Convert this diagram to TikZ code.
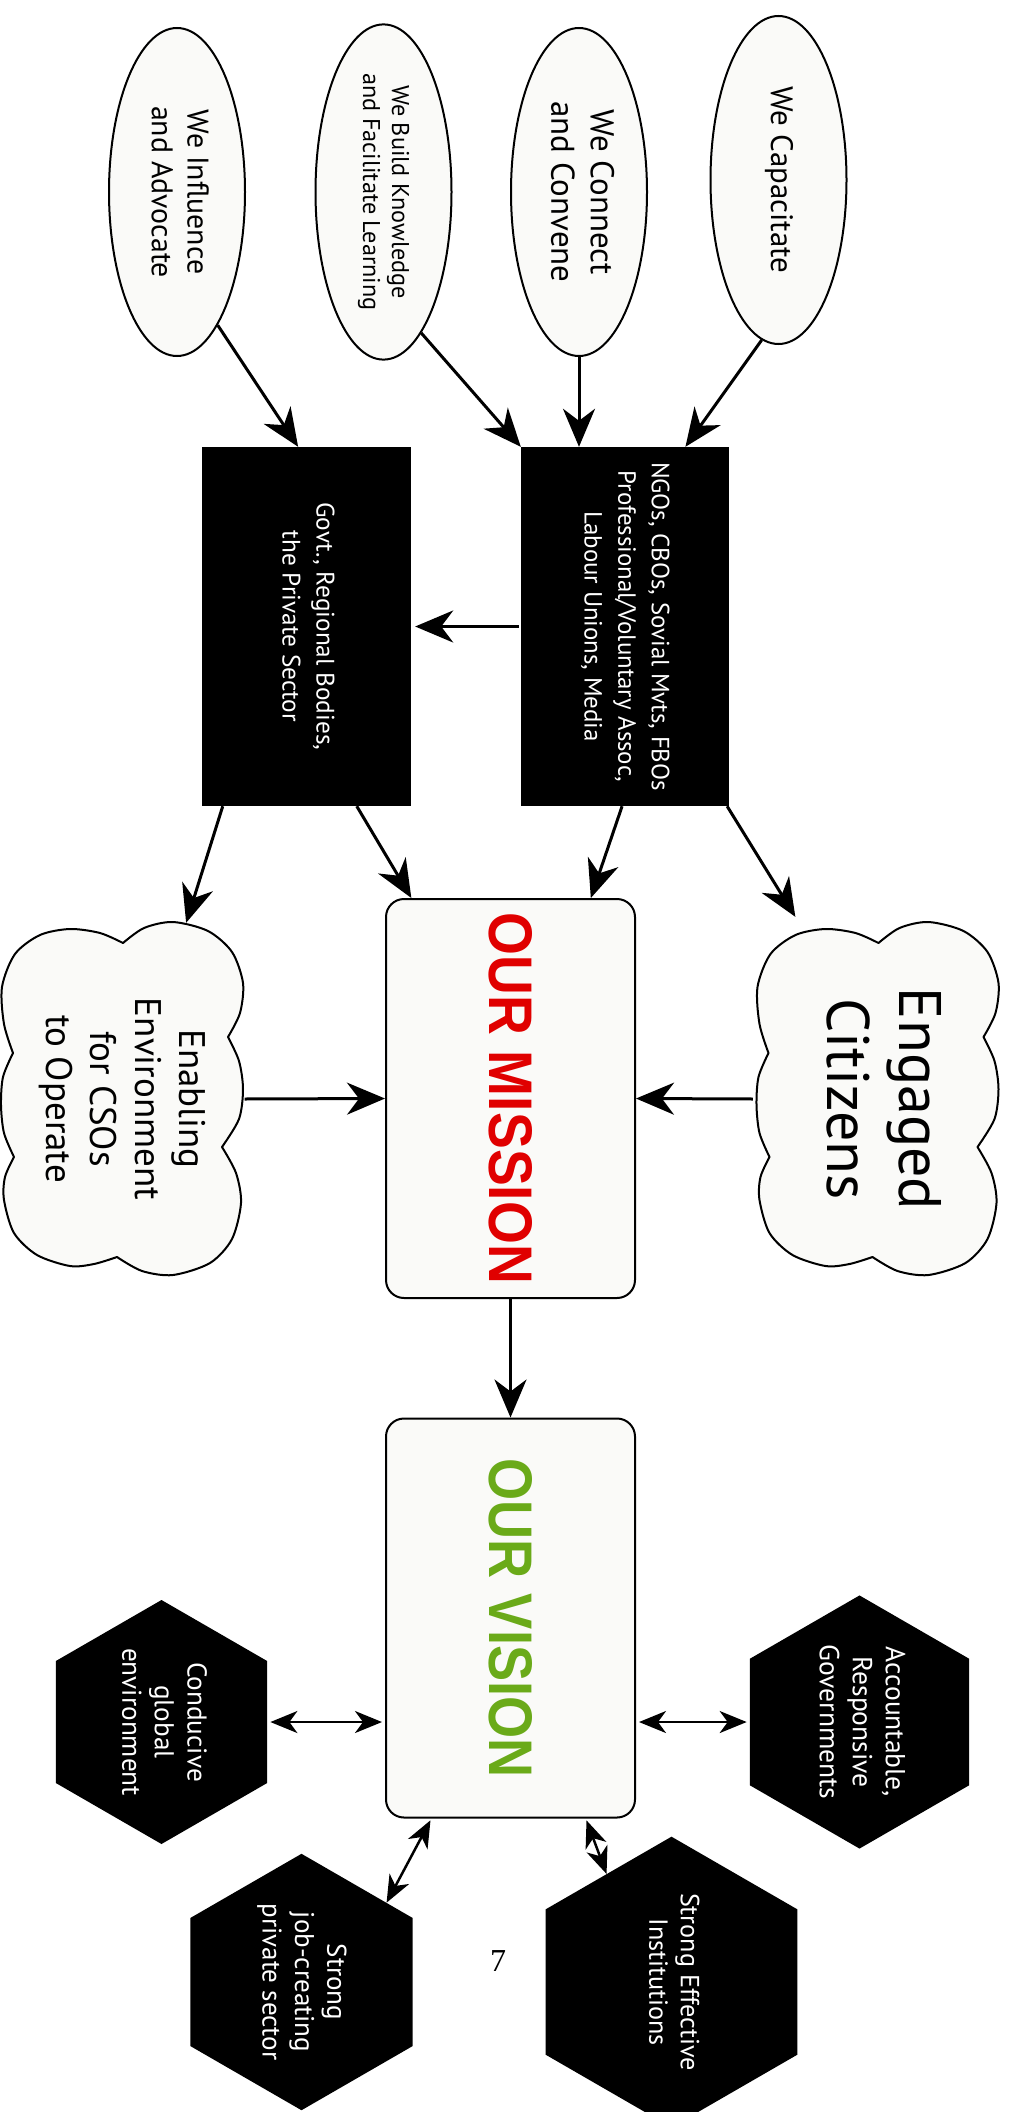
\documentclass[tikz,border=0pt]{standalone}
\usepackage{fontspec}
\setmainfont{PT Sans}
\newfontfamily\boldhead{Liberation Sans}
\newfontfamily\pagefont{Liberation Serif}
\usetikzlibrary{shapes.geometric,arrows.meta,calc}
\definecolor{shapefill}{RGB}{250,250,248}
\definecolor{missionred}{RGB}{224,0,0}
\definecolor{visiongreen}{RGB}{106,170,25}
\newcommand{\vtxt}[3]{\rotatebox{-90}{\resizebox{#1}{!}{\fontsize{10}{#2}\selectfont\begin{tabular}{@{}c@{}}#3\end{tabular}}}}
\newcommand{\bigword}[3]{\rotatebox{-90}{\resizebox{#1}{43pt}{\boldhead\bfseries\color{#2}#3}}}
\newcommand{\cloudoutline}[2]{%
  \filldraw[cloudline, shift={(#1,#2)}]
    plot[smooth] coordinates {(1,-156) (22,-171) (51,-177) (86,-168) (110,-147) (121,-116) (118,-86) (106,-62)}
    -- plot[smooth] coordinates {(106,-62) (117,-38) (121,-10) (117,20) (100,48)}
    -- plot[smooth] coordinates {(100,48) (114,74) (119,104) (110,140) (88,164) (51,176) (20,172) (-5,158)}
    -- plot[smooth] coordinates {(-5,158) (-28,165) (-52,167) (-85,156) (-108,134) (-118,101) (-117,78) (-108,58)}
    -- plot[smooth] coordinates {(-108,58) (-118,34) (-121,6) (-119,-22) (-109,-46)}
    -- plot[smooth] coordinates {(-109,-46) (-118,-75) (-120,-112) (-107,-145) (-82,-164) (-52,-170) (-22,-166) (1,-156)}
    -- cycle;}
\tikzset{
  idea/.style={ellipse, draw, line width=2pt, fill=shapefill, minimum width=136pt, minimum height=328pt, inner sep=0pt},
  actor/.style={rectangle, fill=black, text=white, minimum width=209pt, minimum height=359pt, inner sep=0pt},
  cloudline/.style={draw=black, line width=2pt, fill=shapefill, line join=round},
  cloudbox/.style={rectangle, minimum width=241pt, minimum height=352pt, inner sep=0pt},
  core/.style={rectangle, rounded corners=18pt, draw, line width=2pt, fill=shapefill, minimum width=249pt, minimum height=399pt, inner sep=0pt},
  goal/.style={regular polygon, regular polygon sides=6, shape border rotate=30, fill=black, text=white, minimum size=244pt, inner sep=0pt},
  flow/.style={line width=3pt, -{Stealth[length=38pt,width=32pt,inset=12pt]}},
  link/.style={line width=2.5pt, {Stealth[length=27pt,width=22pt,inset=8pt]}-{Stealth[length=27pt,width=22pt,inset=8pt]}},
  pagenum/.style={inner sep=0pt, font=\pagefont\fontsize{32}{38}\selectfont}
}
\begin{document}
\begin{tikzpicture}[x=1pt,y=-1pt]
\fill[white] (0,0) rectangle (1013,2112);
\useasboundingbox (0,0) rectangle (1013,2112);

% ellipses
\node[idea] (e1) at (177,192) {\vtxt{172pt}{12}{We Influence\\and Advocate}};
\node[idea] (e2) at (383.5,192) {\vtxt{237pt}{12}{We Build Knowledge\\and Facilitate Learning}};
\node[idea] (e3) at (579,192) {\vtxt{181pt}{12}{We Connect\\and Convene}};
\node[idea] (e4) at (778.5,180) {\vtxt{187pt}{12}{We Capacitate}};

% black boxes
\node[actor] (govt) at (306.5,626.5) {\vtxt{248pt}{13.5}{Govt., Regional Bodies,\\the Private Sector}};
\node[actor, minimum width=208pt] (ngo) at (625,626.5) {\vtxt{329pt}{13.5}{NGOs, CBOs, Sovial Mvts, FBOs\\Professional/Voluntary Assoc,\\Labour Unions, Media}};

% clouds
\cloudoutline{122}{1099}
\cloudoutline{877.5}{1099}
\node[cloudbox] (encloud) at (122,1099) {\vtxt{202pt}{12}{Enabling\\Environment\\for CSOs\\to Operate}};
\node[cloudbox, minimum width=245pt] (citizens) at (877.5,1099) {\vtxt{222pt}{12}{Engaged\\Citizens}};

% mission and vision
\node[core] (mission) at (510.5,1098.5) {\bigword{371pt}{missionred}{OUR MISSION}};
\node[core] (vision) at (510.5,1618) {\bigword{319pt}{visiongreen}{OUR VISION}};

% hexagons
\node[goal] (conducive) at (161.5,1722) {\vtxt{148pt}{12}{Conducive\\global\\environment}};
\node[goal] (accountable) at (859.5,1722) {\vtxt{155pt}{12}{Accountable,\\Responsive\\Governments}};
\node[goal] (job) at (301.5,1982) {\vtxt{157pt}{12}{Strong\\job-creating\\private sector}};
\node[goal] (effective) at (671.5,1982) {\vtxt{178pt}{12}{Strong Effective\\Institutions}};

\node[pagenum] (pg) at (498,1961) {7};

% arrows
\draw[flow] (e1.-73.5) -- ($(govt.north west)!0.46!(govt.north east)$);
\draw[flow] (e2.-75.5) -- (ngo.north west);
\draw[flow] (e3.south) -- (e3.south |- ngo.north);
\draw[flow] (e4.264.5) -- ($(ngo.north west)!0.79!(ngo.north east)$);
\draw[flow, shorten >=4pt, shorten <=2pt] (ngo.west) -- (govt.east);
\draw[flow] ($(govt.south west)!0.1!(govt.south east)$) -- (encloud.70);
\draw[flow] ($(govt.south west)!0.74!(govt.south east)$) -- ($(mission.north west)!0.105!(mission.north east)$);
\draw[flow] ($(ngo.south west)!0.486!(ngo.south east)$) -- ($(mission.north west)!0.82!(mission.north east)$);
\draw[flow, shorten >=7pt] ($(ngo.south west)!0.99!(ngo.south east)$) -- (citizens.114);
\draw[flow, shorten <=2pt] (encloud.east) -- (mission.west);
\draw[flow, shorten <=2pt] (citizens.west) -- (mission.east);
\draw[flow] (mission.south) -- (vision.north);

\draw[link, shorten <=3pt, shorten >=3pt] (conducive.east) -- (conducive.east -| vision.west);
\draw[link, shorten <=3pt, shorten >=3pt] (vision.east |- accountable.west) -- (accountable.west);
\draw[link, shorten >=2pt] (job.43) -- ($(vision.south west)!0.185!(vision.south east)$);
\draw[link, shorten <=2pt] ($(vision.south west)!0.80!(vision.south east)$) -- (effective.121);
\end{tikzpicture}
\end{document}
